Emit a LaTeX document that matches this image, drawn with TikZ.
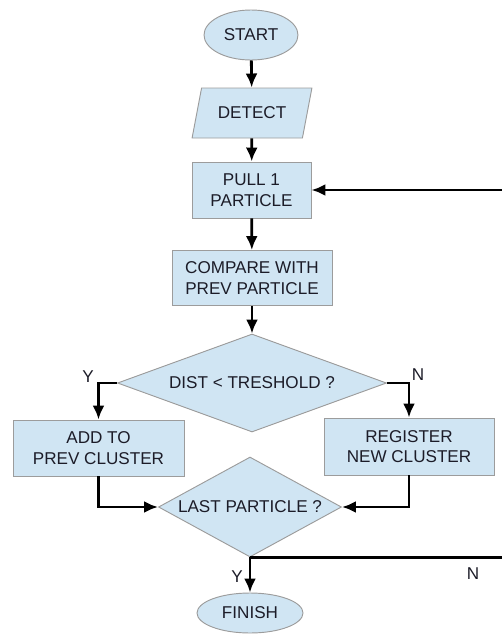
\documentclass[tikz,border=0pt]{standalone}
\usepackage{fontspec}
\setmainfont{Liberation Sans}
\usetikzlibrary{shapes.geometric, arrows.meta}

\definecolor{boxfill}{HTML}{D0E5F3}
\definecolor{boxline}{HTML}{9C9C9C}
\definecolor{inktext}{HTML}{1C1C28}

\begin{document}
\begin{tikzpicture}[x = 0.03 cm, y = -0.03 cm,
	 font = \fontsize{14.6}{17.5}\selectfont, text = inktext,
	 block/.style = {draw = boxline, fill = boxfill, line width = 0.8pt, inner sep = 0pt, align = center},
	 term/.style = {block, ellipse},
	 io/.style = {block, trapezium, trapezium left angle = 62, trapezium right angle = 118, trapezium stretches = true},
	 proc/.style = {block, rectangle},
	 decide/.style = {block, diamond},
	 flow/.style = {line width = 2.4pt, -{Latex[length = 0.42cm, width = 0.36cm]}},
	 tag/.style = {inner sep = 0pt}]
	 \useasboundingbox (0, 0) rectangle (502, 636);
	 
	 \node[term, minimum width = 2.82 cm, minimum height = 1.5 cm] (start) at (251, 35) {START};
	 \node[io, minimum width = 3.6 cm, minimum height = 1.5 cm] (detect) at (252, 113) {DETECT};
	 \node[proc, minimum width = 3.57 cm, minimum height = 1.68 cm] (pull) at (251.5, 190) {PULL 1\\PARTICLE};
	 \node[proc, minimum width = 4.8 cm, minimum height = 1.65 cm] (compare) at (252, 278) {COMPARE WITH\\PREV PARTICLE};
	 \node[decide, shape aspect = 2.74, minimum width = 8.07 cm, minimum height = 2.94 cm] (dist) at (252, 383) {DIST < TRESHOLD ?};
	 \node[proc, minimum width = 5.13 cm, minimum height = 1.68 cm] (add) at (98.5, 448) {ADD TO\\PREV CLUSTER};
	 \node[proc, minimum width = 5.1 cm, minimum height = 1.71 cm] (register) at (409, 446.5) {REGISTER\\NEW CLUSTER};
	 \node[decide, shape aspect = 1.83, minimum width = 5.49 cm, minimum height = 3 cm] (last) at (250, 507) {LAST PARTICLE ?};
	 \node[term, minimum width = 3.18 cm, minimum height = 1.2 cm] (finish) at (250, 613) {FINISH};
	 
	 % Y / N marks
	 \node[tag] (yes1) at (88, 377) {Y};
	 \node[tag] (no1) at (418, 375) {N};
	 \node[tag] (yes2) at (237, 577) {Y};
	 \node[tag] (no2) at (473, 574) {N};
	 
	 \coordinate (back) at (507, 190);
	 
	 \draw[flow] (start) -- (detect);
	 \draw[flow] (detect) -- (pull);
	 \draw[flow] (pull) -- (compare);
	 \draw[flow] (compare) -- (dist);
	 \draw[flow] (dist.west) -| (add.north);
	 \draw[flow] (dist.east) -| (register.north);
	 \draw[flow] (add.south) |- (last.west);
	 \draw[flow] (register.south) |- (last.east);
	 \draw[flow] (last.south) -- (finish.north);
	 \draw[flow] (last.south) -| (back) -- (pull.east);
\end{tikzpicture}
\end{document}
